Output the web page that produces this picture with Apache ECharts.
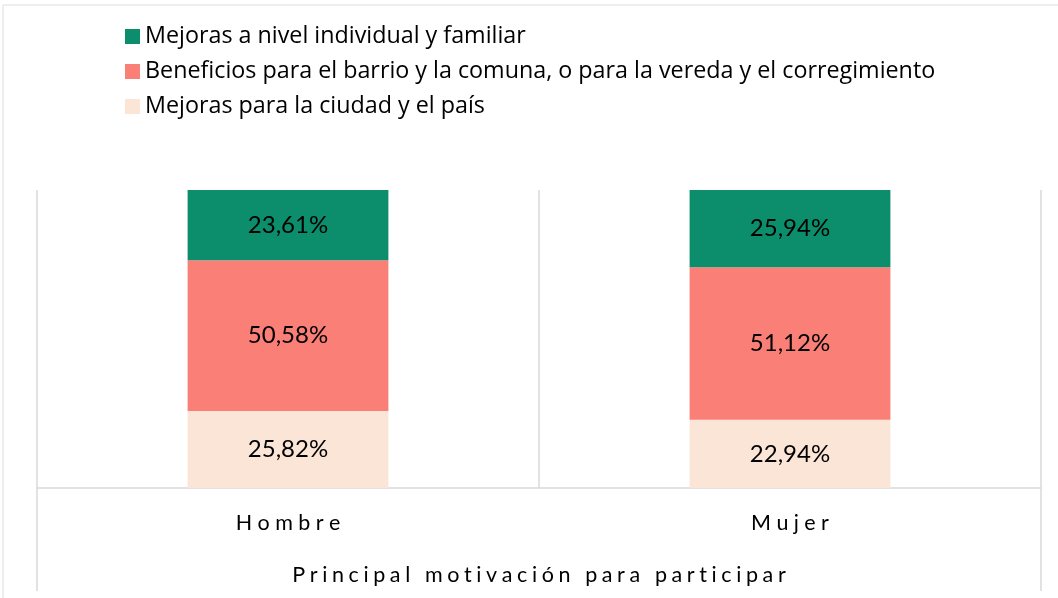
<!DOCTYPE html>
<html>
<head>
<meta charset="utf-8">
<script src="https://cdn.jsdelivr.net/npm/echarts@6/dist/echarts.min.js"></script>
<style>
  html, body { margin: 0; padding: 0; background: #fff; }
  #main { width: 1058px; height: 598px; }
</style>
</head>
<body>
<div id="main"></div>
<script>
// categories and values (percent of each group)
const categories = ['Hombre', 'Mujer'];
const axisTitle = 'Principal motivación para participar';
const seriesNames = [
  'Mejoras a nivel individual y familiar',
  'Beneficios para el barrio y la comuna, o para la vereda y el corregimiento',
  'Mejoras para la ciudad y el país'
];
const individual = [23.61, 25.94];
const barrio = [50.58, 51.12];
const ciudad = [25.82, 22.94];

const colors = ['#0c8e6c', '#fa7f77', '#fbe5d6'];
const FONT = 'Lato';
const LEGEND_FONT = 'Open Sans';

// spread letters out, like the spaced axis text of the original
function spaced(text) {
  return text.split('').map(ch => '{s|' + ch + '}').join('');
}

function fmt(v) {
  return v.toFixed(2).replace('.', ',') + '%';
}

function barSeries(name, data, color) {
  return {
    name: name,
    type: 'bar',
    stack: 'total',
    barWidth: '40%',
    data: data,
    itemStyle: { color: color },
    label: {
      show: true,
      position: 'inside',
      color: '#000',
      fontFamily: FONT,
      fontSize: 24,
      formatter: p => fmt(p.value)
    }
  };
}

let chart = echarts.init(document.getElementById('main'));
chart.setOption({
  animation: false,
  textStyle: { fontFamily: FONT },
  legend: {
    orient: 'vertical',
    left: 120,
    top: 20,
    icon: 'rect',
    itemWidth: 15,
    itemHeight: 15,
    itemGap: 12,
    data: seriesNames,
    textStyle: { fontFamily: LEGEND_FONT, fontSize: 23.3, color: '#000', lineHeight: 23 }
  },
  grid: { left: 37, right: 17, top: 190, bottom: 110 },
  xAxis: {
    type: 'category',
    data: categories,
    axisLine: { lineStyle: { color: '#d9d9d9', width: 1.5 } },
    axisTick: { show: false },
    splitLine: { show: true, lineStyle: { color: '#d9d9d9', width: 1.5 } },
    axisLabel: {
      margin: 24,
      formatter: v => spaced(v),
      rich: { s: { fontFamily: FONT, fontSize: 21.5, color: '#000', padding: [0, 2.7, 0, 2.7] } }
    },
    name: spaced(axisTitle),
    nameLocation: 'middle',
    nameGap: 76,
    nameTextStyle: {
      rich: { s: { fontFamily: FONT, fontSize: 21.5, color: '#000', padding: [0, 2.3, 0, 2.3] } }
    }
  },
  yAxis: { type: 'value', min: 0, max: 100, show: false },
  series: [
    barSeries(seriesNames[2], ciudad, colors[2]),
    barSeries(seriesNames[1], barrio, colors[1]),
    barSeries(seriesNames[0], individual, colors[0])
  ],
  graphic: [
    // outer chart frame
    { type: 'line', shape: { x1: 3, y1: 5, x2: 1058, y2: 5 }, style: { stroke: '#e8e8e8', lineWidth: 1.5 } },
    { type: 'line', shape: { x1: 3, y1: 5, x2: 3, y2: 598 }, style: { stroke: '#e8e8e8', lineWidth: 1.5 } },
    // category group lines below the axis
    { type: 'line', shape: { x1: 37, y1: 488, x2: 37, y2: 591 }, style: { stroke: '#d9d9d9', lineWidth: 1.5 } },
    { type: 'line', shape: { x1: 1041, y1: 488, x2: 1041, y2: 591 }, style: { stroke: '#d9d9d9', lineWidth: 1.5 } }
  ]
});
</script>
</body>
</html>
